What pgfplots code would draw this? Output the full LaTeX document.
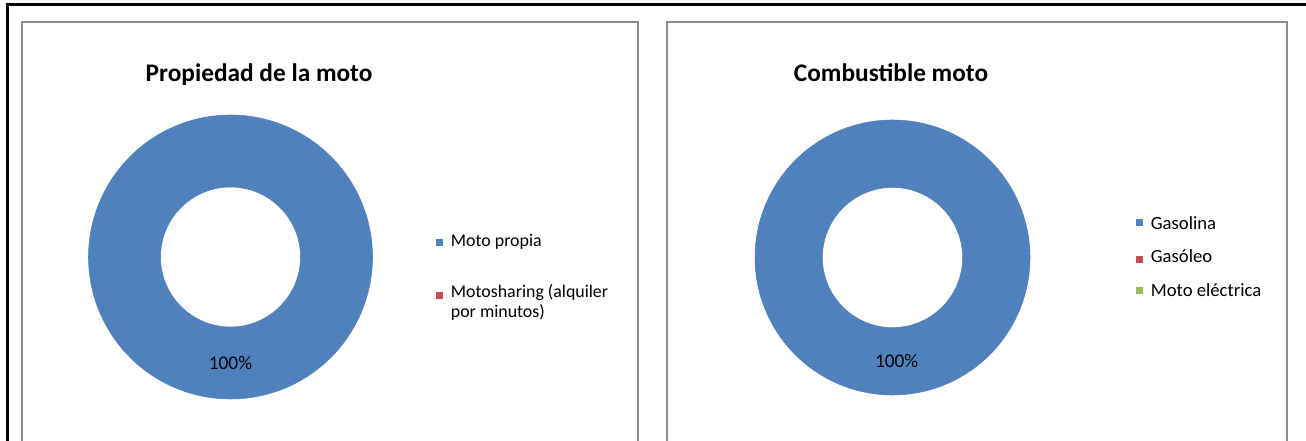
\documentclass[border=0pt]{standalone}
\usepackage{fontspec}
\setmainfont{Carlito}
\usepackage{pgfplots}
\usepackage{pgfplotstable}
\pgfplotsset{compat=1.18}
\definecolor{cBlue}{HTML}{4F81BD}
\definecolor{cRed}{HTML}{C0504D}
\definecolor{cGreen}{HTML}{9BBB59}
\definecolor{cFrame}{HTML}{8C8C8C}

% data: shares in percent
\pgfplotstableread[col sep=comma]{
cat,value
Moto propia,100
Motosharing,0
}\propiedad
\pgfplotstableread[col sep=comma]{
cat,value
Gasolina,100
Gasoleo,0
Electrica,0
}\combustible

% ring slice: #1 start angle, #2 sweep (deg, clockwise), #3 inner radius ratio, #4 colour
% t in [0,1]: outer arc, [1,2]: radial edge, [2,3]: inner arc back
\newcommand{\ringslice}[4]{%
  \addplot[fill=#4, draw=#4, line width=0.4pt, variable=\t, domain=0:3, samples=1081]
    ({((\t<=1)?1:((\t>=2)?#3:(1-(\t-1)*(1-#3))))*cos((\t<=1)?(#1-\t*#2):((\t>=2)?(#1-(3-\t)*#2):(#1-#2)))},
     {((\t<=1)?1:((\t>=2)?#3:(1-(\t-1)*(1-#3))))*sin((\t<=1)?(#1-\t*#2):((\t>=2)?(#1-(3-\t)*#2):(#1-#2)))}) -- cycle;
}

\begin{document}
\begin{tikzpicture}
\useasboundingbox (0pt,0pt) rectangle (979.5pt,-330.75pt);
% outer black frame
\draw[line width=2.25pt] (5.25pt,-340pt) -- (5.25pt,-3.75pt) -- (990pt,-3.75pt);
% panels
\draw[cFrame, line width=1.5pt] (16.5pt,-340pt) -- (16.5pt,-16.5pt) -- (478.5pt,-16.5pt) -- (478.5pt,-340pt);
\draw[cFrame, line width=1.5pt] (500.25pt,-340pt) -- (500.25pt,-16.5pt) -- (965.25pt,-16.5pt) -- (965.25pt,-340pt);

% titles
\node[font=\fontsize{19}{22}\selectfont\bfseries, anchor=base] at (194.25pt,-61.3pt) {Propiedad de la moto};
\node[font=\fontsize{19}{22}\selectfont\bfseries, anchor=base] at (668.25pt,-61.3pt) {Combustible moto};

% donut 1
\begin{axis}[at={(172.875pt,-192.75pt)}, anchor=center, width=213pt, height=213pt,
  scale only axis, xmin=-1, xmax=1, ymin=-1, ymax=1, hide axis, clip=false]
  \pgfplotstablegetelem{0}{value}\of\propiedad
  \pgfmathsetmacro{\sweepA}{\pgfplotsretval*3.6}
  \ringslice{90}{\sweepA}{0.493}{cBlue}
  \node[font=\fontsize{14.5}{17}\selectfont] at (axis cs:0,-0.746) {100\%};
\end{axis}

% donut 2
\begin{axis}[at={(669.375pt,-193.125pt)}, anchor=center, width=206.25pt, height=206.25pt,
  scale only axis, xmin=-1, xmax=1, ymin=-1, ymax=1, hide axis, clip=false]
  \pgfplotstablegetelem{0}{value}\of\combustible
  \pgfmathsetmacro{\sweepB}{\pgfplotsretval*3.6}
  \ringslice{90}{\sweepB}{0.51}{cBlue}
  \node[font=\fontsize{14.5}{17}\selectfont] at (axis cs:0.03,-0.755) {100\%};
\end{axis}

% legend 1
\fill[cBlue] (326.8pt,-179pt) rectangle (332.4pt,-184.6pt);
\node[font=\fontsize{13.4}{15}\selectfont, anchor=base west, inner sep=0pt] at (338pt,-185.25pt) {Moto propia};
\fill[cRed] (326.8pt,-218.8pt) rectangle (332.4pt,-224.4pt);
\node[font=\fontsize{13.4}{15}\selectfont, anchor=base west, inner sep=0pt] at (338pt,-223.5pt) {Motosharing (alquiler};
\node[font=\fontsize{13.4}{15}\selectfont, anchor=base west, inner sep=0pt] at (338pt,-238.5pt) {por minutos)};

% legend 2
\fill[cBlue] (851.8pt,-164pt) rectangle (857.4pt,-169.6pt);
\node[font=\fontsize{14}{15}\selectfont, anchor=base west, inner sep=0pt] at (863pt,-172pt) {Gasolina};
\fill[cRed] (851.8pt,-191.8pt) rectangle (857.4pt,-197.4pt);
\node[font=\fontsize{14}{15}\selectfont, anchor=base west, inner sep=0pt] at (863pt,-197.25pt) {Gasóleo};
\fill[cGreen] (851.8pt,-215pt) rectangle (857.4pt,-220.6pt);
\node[font=\fontsize{14}{15}\selectfont, anchor=base west, inner sep=0pt] at (863pt,-222.75pt) {Moto eléctrica};
\end{tikzpicture}
\end{document}
